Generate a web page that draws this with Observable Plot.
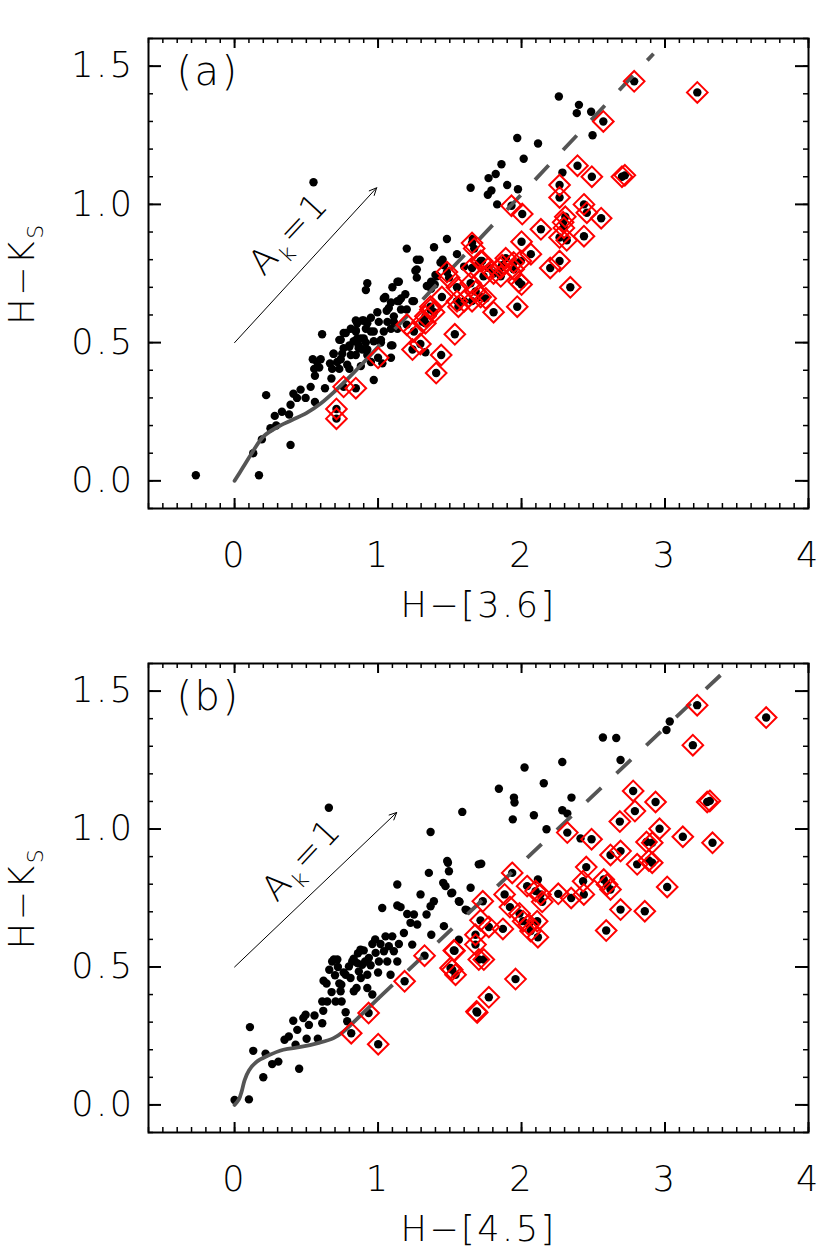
<!DOCTYPE html>
<html><head><meta charset="utf-8">
<script src="https://cdn.jsdelivr.net/npm/d3@7"></script>
<script src="https://cdn.jsdelivr.net/npm/@observablehq/plot@0.6"></script>
<style>
body{margin:0;background:#fff;}
#chart{width:830px;}
#chart svg{display:block;}
#chart svg text{letter-spacing:2.5px;}
</style></head><body><div id="chart"></div>
<script>
// ---- axes / ticks ----
const xDomain = [-0.6, 4];
const yDomain = [-0.1, 1.6];
const xMajor = [0, 1, 2, 3, 4];
const xMinor = d3.range(-6, 41).map(d => d / 10);
const yMajor = [0, 0.5, 1.0, 1.5];
const yMinor = d3.range(-1, 17).map(d => d / 10);
const xTitles = ["H−[3.6]", "H−[4.5]"];
const yTitle = "H−KS";
const panelLabels = ["(a)", "(b)"];

// ---- panel (a): H-[3.6] vs H-Ks ----
const a36Dots = [[-0.27,0.02],[0.17,0.02],[0.22,0.31],[0.39,0.13],[0.13,0.10],[0.19,0.15],[0.25,0.19],[0.29,0.20],[0.28,0.235],[0.33,0.25],[0.38,0.24],[0.39,0.275],[0.41,0.315],[0.46,0.33],[0.435,0.30],[0.495,0.30],[0.53,0.34],[0.56,0.285],[0.56,0.38],[0.545,0.44],[0.60,0.44],[0.59,0.41],[0.61,0.53],[0.63,0.335],[0.675,0.37],[0.665,0.425],[0.69,0.46],[0.73,0.51],[0.73,0.405],[0.76,0.535],[0.74,0.44],[0.76,0.48],[0.80,0.49],[0.80,0.405],[0.81,0.455],[0.83,0.505],[0.845,0.545],[0.855,0.57],[0.865,0.49],[0.88,0.515],[0.89,0.475],[0.90,0.58],[0.925,0.57],[0.915,0.50],[0.95,0.54],[0.95,0.43],[0.97,0.365],[0.995,0.61],[1.02,0.51],[1.03,0.425],[1.04,0.66],[1.065,0.575],[1.075,0.625],[1.10,0.70],[1.11,0.595],[1.135,0.65],[1.135,0.72],[1.135,0.55],[1.10,0.49],[0.925,0.715],[0.915,0.69],[1.25,0.65],[1.27,0.735],[1.27,0.765],[1.34,0.705],[1.37,0.72],[1.33,0.465],[1.40,0.745],[1.435,0.79],
[1.48,0.875],[1.39,0.845],[1.20,0.84],[1.66,0.875],[1.27,0.80],[1.45,0.80],[1.55,0.82],[1.26,0.76],[1.46,0.78],[1.145,0.72],[1.395,0.71],[1.19,0.675],[1.05,0.665],[1.09,0.645],[1.145,0.65],[1.06,0.615],[1.16,0.62],[0.845,0.58],[0.89,0.58],[0.95,0.59],[1.005,0.575],[1.11,0.575],[0.915,0.55],[0.81,0.55],[0.775,0.535],[0.845,0.54],[0.97,0.54],[1.04,0.54],[1.09,0.55],[0.74,0.51],[0.855,0.515],[0.90,0.515],[0.97,0.505],[1.02,0.50],[1.09,0.49],[0.80,0.485],[0.865,0.48],[0.925,0.475],[0.69,0.46],[0.75,0.46],[0.845,0.455],[0.925,0.455],[1.09,0.445],[0.715,0.43],[0.785,0.42],[0.575,0.43],[0.555,0.405],[0.68,0.405],[0.88,0.415],
[1.16,0.66],[1.37,0.695],[1.60,0.775],[1.70,0.785],[1.41,0.74],[1.38,0.715],[1.24,0.65],[1.20,0.62],[1.29,0.80],
[0.55,1.08],[1.645,1.06],[2.115,1.22],[2.015,1.165],[1.86,1.145],[1.82,1.11],[1.77,1.095],[1.765,1.035],[1.79,1.05],[1.90,1.07],[1.975,1.055],[1.83,1.0],[2.285,1.115],[2.26,1.39],[2.40,1.36],[2.385,1.33],[2.485,1.335],[2.495,1.25],[1.97,1.24]];
const a36Excess = [[0.71,0.26],[0.71,0.225],[0.76,0.34],[0.845,0.335],[1.0,0.445],[1.20,0.565],[1.25,0.54],[1.295,0.495],[1.24,0.475],[1.31,0.575],[1.33,0.57],[1.365,0.63],[1.39,0.61],[1.445,0.665],[1.535,0.53],[1.44,0.455],[1.405,0.39],[1.495,0.735],[1.48,0.755],[1.55,0.70],[1.55,0.65],[1.56,0.63],[1.655,0.86],[1.655,0.77],[1.645,0.715],[1.725,0.795],[1.75,0.66],[1.60,0.65],[1.68,0.685],[1.715,0.665],[1.655,0.65],[1.735,0.74],[1.77,0.77],[1.805,0.75],[1.855,0.74],[1.855,0.77],[1.89,0.805],[1.865,0.78],[1.945,0.79],[1.945,0.765],[1.98,0.72],[1.805,0.61],[1.97,0.63],[2.0,0.71],[1.995,0.795],[2.065,0.82],[2.0,0.865],[2.135,0.91],[2.2,0.77],[2.265,0.795],[2.34,0.70],[2.265,0.88],[2.315,0.87],[2.295,0.915],[2.29,0.935],[2.305,0.955],[2.435,0.885],[2.435,1.0],[2.455,0.97],[2.555,0.95],[1.93,0.995],[2.005,0.965],[2.265,1.07],[2.265,1.025],[2.39,1.14],[2.49,1.10],[2.70,1.10],[2.72,1.105],[2.57,1.30],[2.785,1.445],[3.225,1.405],[1.67,0.84],[1.715,0.795],[1.365,0.62],[1.33,0.595]];
const a36LocusX = [0, 0.06, 0.12, 0.2, 0.3, 0.4, 0.5, 0.6, 0.7, 0.8, 0.92];
const a36LocusY = [0, 0.05, 0.10, 0.16, 0.195, 0.22, 0.245, 0.28, 0.325, 0.375, 0.44];
const a36RedX = [0.92, 2.92];
const a36RedY = [0.44, 1.545];
const a36Arrow = [[0, 0.5, 0.99, 1.06]];
const a36ArrowLabel = [[0.38, 0.895]];

// ---- panel (b): H-[4.5] vs H-Ks ----
const b45Dots = [[0,0.018],[0.10,0.02],[0.107,0.282],[0.13,0.196],[0.2,0.10],[0.216,0.186],[0.262,0.148],[0.305,0.157],[0.45,0.131],[0.348,0.236],[0.378,0.248],[0.409,0.305],[0.425,0.218],[0.437,0.272],[0.479,0.315],[0.495,0.327],[0.518,0.29],[0.502,0.24],[0.557,0.324],[0.58,0.24],[0.611,0.296],[0.618,0.341],[0.611,0.375],[0.641,0.44],[0.646,0.375],[0.676,0.409],[0.692,0.527],[0.716,0.527],[0.704,0.375],[0.739,0.412],[0.744,0.436],[0.746,0.375],[0.774,0.336],[0.774,0.472],[0.785,0.303],[0.797,0.502],[0.808,0.46],[0.831,0.412],[0.855,0.514],[0.866,0.484],[0.878,0.563],[0.89,0.508],[0.85,0.424],[0.925,0.472],[0.925,0.424],[0.936,0.533],[0.948,0.506],[0.96,0.40],[0.96,0.583],[0.983,0.551],[1.006,0.52],[1.017,0.583],[1.029,0.714],[1.041,0.557],[1.052,0.611],[1.064,0.52],[1.075,0.575],[1.087,0.472],[1.099,0.611],[1.11,0.557],[1.134,0.52],[1.134,0.723],[1.145,0.583],[1.157,0.717],[1.134,0.799],[1.18,0.623],[1.203,0.692],[1.226,0.66],[1.238,0.581],[1.25,0.69],[1.273,0.654],[1.296,0.763],[1.338,0.69],[1.354,0.841],[1.366,0.72],[1.371,0.617],[1.389,0.738],[1.366,0.989],[0.657,1.077],[1.587,1.062],[1.454,0.805],[1.47,0.793],[1.482,0.884],[1.494,0.847],[1.517,0.769],[1.459,0.648],[1.563,0.738],[1.645,0.787],[1.702,0.872],[1.61,0.708],[1.563,0.599],
[0.66,0.49],[0.70,0.47],[0.72,0.50],[0.76,0.48],[0.82,0.52],[0.86,0.55],[0.90,0.56],[0.62,0.45],[0.68,0.52],[0.73,0.44],[0.88,0.46],[0.98,0.60],[1.0,0.48],[0.83,0.53],[0.91,0.52],
[1.842,1.146],[2.021,1.223],[1.947,1.114],[1.951,1.096],[1.939,1.035],[2.086,1.05],[2.155,1.166],[2.174,0.999],[2.284,1.243],[2.284,1.068],[2.319,1.056],[2.348,1.114],[2.567,1.332],[2.66,1.33],[2.69,1.25],[3.033,1.39],[3.01,1.359],[2.411,0.966],[1.487,0.878],[1.51,0.767],[1.568,0.736],[1.719,0.874],[1.621,0.705],[2.114,0.817]];
const b45Excess = [[0.813,0.26],[0.934,0.333],[1.001,0.22],[1.185,0.448],[1.324,0.541],[1.528,0.56],[1.505,0.496],[1.54,0.472],[1.686,0.339],[1.679,0.617],[1.702,0.527],
[3.224,1.449],[3.705,1.404],[3.194,1.304],[2.778,1.138],[2.934,1.098],[3.294,1.098],[3.312,1.102],[2.79,1.065],[2.685,1.027],[2.319,0.987],[2.488,0.963],[2.962,1.001],[3.124,0.972],[3.331,0.95],[2.871,0.953],[2.911,0.95],[2.69,0.92],[2.62,0.906],[2.806,0.872],[2.887,0.886],[2.911,0.878],[2.451,0.862],[2.429,0.811],[2.573,0.817],[2.596,0.799],[2.62,0.781],[3.015,0.79],[2.434,0.763],[2.346,0.75],[2.256,0.765],[2.69,0.708],[2.859,0.702],[2.59,0.632],[1.935,0.841],[2.039,0.793],[2.098,0.775],[2.132,0.763],[2.144,0.736],[1.882,0.763],[1.919,0.717],[1.986,0.694],[2.011,0.666],[2.051,0.654],[2.109,0.666],[2.063,0.63],[2.114,0.608],[1.87,0.638],[1.772,0.645],[1.714,0.669],[1.73,0.738],[1.679,0.581],[1.737,0.527],[1.533,0.559],[1.517,0.49],[1.958,0.456],[1.772,0.39],[1.691,0.335]];
const b45LocusX = [0, 0.03, 0.05, 0.07, 0.1, 0.15, 0.23, 0.34, 0.46, 0.58, 0.69, 0.76, 0.83, 0.92, 1.0];
const b45LocusY = [0, 0.02, 0.05, 0.09, 0.125, 0.155, 0.178, 0.2, 0.21, 0.224, 0.242, 0.266, 0.3, 0.345, 0.385];
const b45RedX = [1.0, 3.42];
const b45RedY = [0.385, 1.574];
const b45Arrow = [[0, 0.5, 1.13, 1.06]];
const b45ArrowLabel = [[0.47, 0.89]];

// ---- drawing ----
const FONT = "'DejaVu Sans', sans-serif";
const W = 660;
const zip = (xs, ys) => xs.map((x, i) => [x, ys[i]]);

function panel(o) {
  const fh = o.height - 38 - 117;
  const p = Plot.plot({
    width: 830, height: o.height,
    marginTop: 38, marginBottom: 117, marginLeft: 148, marginRight: 22,
    style: {fontFamily: FONT, fontWeight: 200, background: "white", color: "black"},
    x: {domain: xDomain},
    y: {domain: yDomain},
    marks: [
      Plot.dot(o.dots.concat(o.excess), {x: d => d[0], y: d => d[1], r: 4.2, fill: "black", stroke: "none"}),
      Plot.line(zip(o.locusX, o.locusY), {x: d => d[0], y: d => d[1], stroke: "#555", strokeWidth: 3.8, curve: "catmull-rom"}),
      Plot.line(zip(o.redX, o.redY), {x: d => d[0], y: d => d[1], stroke: "#555", strokeWidth: 3.8, strokeDasharray: "20,21", strokeLinecap: "butt"}),
      Plot.dot(o.excess, {x: d => d[0], y: d => d[1], symbol: "diamond2", r: 9.3, stroke: "#ff0000", strokeWidth: 2, fill: "none"}),
      Plot.arrow(o.arrow, {x1: d => d[0], y1: d => d[1], x2: d => d[2], y2: d => d[3], stroke: "black", strokeWidth: 1, headLength: 12, headAngle: 50}),
      Plot.text(o.arrowLabel, {x: d => d[0], y: d => d[1], text: () => "Ak=1", rotate: -47, fontSize: 35, textAnchor: "middle", lineAnchor: "middle", fill: "black"}),
      Plot.text([o.label], {frameAnchor: "top-left", dx: 28, dy: 18, text: d => d, fontSize: 40, textAnchor: "start", lineAnchor: "top", fill: "black"}),
      // ticks (inward, four sides)
      Plot.tickX(xMinor, {x: d => d, insetTop: fh - 5, stroke: "black", strokeWidth: 1.5}),
      Plot.tickX(xMinor, {x: d => d, insetBottom: fh - 5, stroke: "black", strokeWidth: 1.5}),
      Plot.tickX(xMajor, {x: d => d, insetTop: fh - 10, stroke: "black", strokeWidth: 2}),
      Plot.tickX(xMajor, {x: d => d, insetBottom: fh - 10, stroke: "black", strokeWidth: 2}),
      Plot.tickY(yMinor, {y: d => d, insetRight: W - 5, stroke: "black", strokeWidth: 1.5}),
      Plot.tickY(yMinor, {y: d => d, insetLeft: W - 5, stroke: "black", strokeWidth: 1.5}),
      Plot.tickY(yMajor, {y: d => d, insetRight: W - 13, stroke: "black", strokeWidth: 2}),
      Plot.tickY(yMajor, {y: d => d, insetLeft: W - 13, stroke: "black", strokeWidth: 2}),
      Plot.frame({stroke: "black", strokeWidth: 2}),
      Plot.axisX(xMajor, {anchor: "bottom", tickSize: 0, tickPadding: 34, fontSize: 35, label: null, tickFormat: d3.format("d")}),
      Plot.axisY(yMajor, {anchor: "left", tickSize: 0, tickPadding: 14, fontSize: 35, label: null, tickFormat: d3.format(".1f")}),
      Plot.text([o.xTitle], {frameAnchor: "bottom", dy: 108, text: d => d, fontSize: 35, textAnchor: "middle", lineAnchor: "bottom", fill: "black"}),
      Plot.text([yTitle], {frameAnchor: "left", dx: -115, text: d => d, rotate: -90, fontSize: 35, textAnchor: "middle", lineAnchor: "bottom", fill: "black"})
    ]
  });
  // subscripts as real text
  d3.select(p).selectAll("text").each(function() {
    const t = this.textContent;
    if (t === "Ak=1") {
      const s = d3.select(this); s.text("");
      s.append("tspan").text("A");
      s.append("tspan").attr("font-size", 22).attr("dy", 9).text("k");
      s.append("tspan").attr("dy", -9).text("=1");
    } else if (t === "H−KS") {
      const s = d3.select(this); s.text("");
      s.append("tspan").text("H−K");
      s.append("tspan").attr("font-size", 22).attr("dy", 9).text("S");
    }
  });
  return p;
}

const root = document.getElementById("chart");
root.appendChild(panel({height: 625, dots: a36Dots, excess: a36Excess, locusX: a36LocusX, locusY: a36LocusY, redX: a36RedX, redY: a36RedY, arrow: a36Arrow, arrowLabel: a36ArrowLabel, label: panelLabels[0], xTitle: xTitles[0]}));
root.appendChild(panel({height: 624, dots: b45Dots, excess: b45Excess, locusX: b45LocusX, locusY: b45LocusY, redX: b45RedX, redY: b45RedY, arrow: b45Arrow, arrowLabel: b45ArrowLabel, label: panelLabels[1], xTitle: xTitles[1]}));
</script></body></html>
